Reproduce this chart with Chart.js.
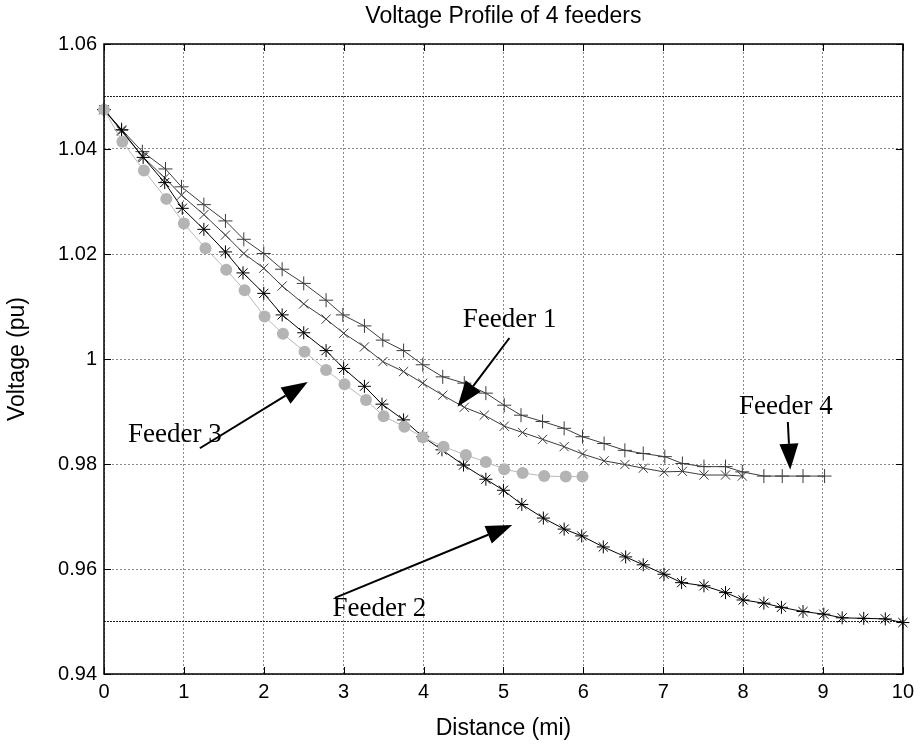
<!DOCTYPE html>
<html>
<head>
<meta charset="utf-8">
<title>Voltage Profile of 4 feeders</title>
<script src="https://cdn.jsdelivr.net/npm/chart.js@4.4.0/dist/chart.umd.min.js"></script>
<style>
    html, body { margin: 0; padding: 0; background: #fff; }
    #voltageGraph { display: block; }
</style>
</head>
<body>
<canvas id="voltageGraph" width="920" height="744"></canvas>
<script>
(function () {
    "use strict";

    // distance along the feeder (mi) and bus voltage (pu)
    const feeder1_dist = [0, 0.22, 0.48, 0.76, 0.97, 1.25, 1.52, 1.75, 2.0, 2.23, 2.5, 2.78, 3.0, 3.26, 3.49, 3.75, 3.99, 4.24, 4.51, 4.76, 5.01, 5.24, 5.49, 5.76, 5.99, 6.26, 6.52, 6.75, 7.01, 7.24, 7.51, 7.78, 7.99];
    const feeder1_volt = [1.0475, 1.0434, 1.0386, 1.0345, 1.0312, 1.0275, 1.0236, 1.0201, 1.0173, 1.0139, 1.0105, 1.0076, 1.0049, 1.0023, 0.9995, 0.9976, 0.9954, 0.9931, 0.9908, 0.9893, 0.9872, 0.986, 0.9847, 0.9833, 0.9819, 0.9806, 0.9799, 0.9792, 0.9785, 0.9786, 0.9779, 0.9779, 0.9777];

    const feeder2_dist = [0, 0.22, 0.49, 0.76, 0.98, 1.25, 1.52, 1.74, 2.0, 2.23, 2.5, 2.78, 3.0, 3.26, 3.48, 3.75, 3.99, 4.23, 4.5, 4.78, 5.0, 5.23, 5.5, 5.76, 5.98, 6.25, 6.53, 6.75, 7.01, 7.23, 7.51, 7.78, 8.0, 8.26, 8.48, 8.75, 9.01, 9.24, 9.51, 9.78, 10.0];
    const feeder2_volt = [1.0475, 1.0436, 1.0384, 1.0336, 1.0287, 1.0247, 1.0204, 1.0164, 1.0125, 1.0084, 1.005, 1.0016, 0.9982, 0.9948, 0.9914, 0.9884, 0.9852, 0.9827, 0.9798, 0.9771, 0.975, 0.9723, 0.9697, 0.9676, 0.9663, 0.9642, 0.9623, 0.9608, 0.959, 0.9574, 0.9568, 0.9555, 0.9541, 0.9535, 0.9527, 0.9519, 0.9514, 0.9507, 0.9506, 0.9505, 0.9498];

    const feeder3_dist = [0, 0.23, 0.5, 0.78, 1.0, 1.27, 1.53, 1.76, 2.01, 2.24, 2.51, 2.78, 3.01, 3.28, 3.5, 3.76, 3.99, 4.25, 4.53, 4.78, 5.01, 5.24, 5.51, 5.78, 5.99];
    const feeder3_volt = [1.0475, 1.0414, 1.0359, 1.0305, 1.0258, 1.0211, 1.017, 1.0131, 1.0081, 1.0048, 1.0014, 0.9979, 0.9952, 0.9922, 0.9891, 0.9871, 0.9851, 0.9833, 0.9817, 0.9804, 0.979, 0.9783, 0.9777, 0.9776, 0.9776];

    const feeder4_dist = [0, 0.22, 0.48, 0.77, 0.97, 1.25, 1.52, 1.75, 2.0, 2.23, 2.5, 2.78, 2.99, 3.26, 3.49, 3.75, 3.99, 4.24, 4.51, 4.78, 5.01, 5.22, 5.49, 5.76, 5.99, 6.26, 6.52, 6.75, 7.02, 7.24, 7.51, 7.78, 7.99, 8.26, 8.49, 8.75, 9.02];
    const feeder4_volt = [1.0475, 1.0437, 1.0395, 1.0362, 1.0328, 1.0294, 1.0263, 1.0228, 1.0201, 1.0171, 1.0144, 1.0112, 1.0084, 1.0063, 1.0036, 1.0016, 0.9989, 0.9966, 0.9954, 0.9935, 0.9912, 0.9893, 0.9881, 0.9868, 0.9852, 0.9839, 0.9826, 0.982, 0.9814, 0.9801, 0.9795, 0.9795, 0.9785, 0.9777, 0.9777, 0.9777, 0.9777];

    // voltage limits drawn as dark lines across the axes
    const limit_volt = [1.05, 0.95];
    const limit_span = [0, 10];

    const x_ticks = [0, 1, 2, 3, 4, 5, 6, 7, 8, 9, 10];
    const y_ticks = [0.94, 0.96, 0.98, 1, 1.02, 1.04, 1.06];
    const feeder_names = ["Feeder 1", "Feeder 2", "Feeder 3", "Feeder 4"];

    const sans = "'Liberation Sans', Arial, Helvetica, sans-serif";
    const serif = "'Liberation Serif', 'Times New Roman', serif";

    // text + arrow callouts, placed in data units (distance, voltage)
    const callouts = [
        { text: feeder_names[0], at: [4.49, 1.0061], from: [5.075, 1.004], to: [4.425, 0.9909] },
        { text: feeder_names[1], at: [2.86, 0.951], from: [2.89, 0.9545], to: [5.11, 0.9684] },
        { text: feeder_names[2], at: [0.3, 0.9842], from: [1.2, 0.983], to: [2.55, 0.9956] },
        { text: feeder_names[3], at: [7.95, 0.9895], from: [8.56, 0.988], to: [8.59, 0.9789] },
    ];

    function toPoints(dist, volt) {
        return dist.map(function (d, i) {
            return { x: d, y: volt[i] };
        });
    }

    function tickList(values) {
        return function (scale) {
            scale.ticks = values.map(function (v) {
                return { value: v };
            });
        };
    }

    /**
     * @description draws a line with a filled triangular head at (x1, y1)
     */
    function drawArrow(ctx, x0, y0, x1, y1) {
        let angle = Math.atan2(y1 - y0, x1 - x0);
        let head_len = 26;
        let head_half = 9.5;
        let bx = x1 - head_len * Math.cos(angle);
        let by = y1 - head_len * Math.sin(angle);
        ctx.beginPath();
        ctx.moveTo(x0, y0);
        ctx.lineTo(bx, by);
        ctx.lineWidth = 2;
        ctx.stroke();
        ctx.beginPath();
        ctx.moveTo(x1, y1);
        ctx.lineTo(bx + head_half * Math.sin(angle), by - head_half * Math.cos(angle));
        ctx.lineTo(bx - head_half * Math.sin(angle), by + head_half * Math.cos(angle));
        ctx.closePath();
        ctx.fill();
    }

    // axes box, inward tick marks and the feeder callouts
    const matlabAxes = {
        id: "matlabAxes",
        afterDraw: function (chart) {
            let ctx = chart.ctx;
            let area = chart.chartArea;
            let xs = chart.scales.x;
            let ys = chart.scales.y;
            ctx.save();
            ctx.strokeStyle = "#000";
            ctx.fillStyle = "#000";
            ctx.lineWidth = 1;
            xs.ticks.forEach(function (t) {
                let px = Math.round(xs.getPixelForValue(t.value)) + 0.5;
                ctx.beginPath();
                ctx.moveTo(px, area.bottom);
                ctx.lineTo(px, area.bottom - 7);
                ctx.moveTo(px, area.top);
                ctx.lineTo(px, area.top + 7);
                ctx.stroke();
            });
            ys.ticks.forEach(function (t) {
                let py = Math.round(ys.getPixelForValue(t.value)) + 0.5;
                ctx.beginPath();
                ctx.moveTo(area.left, py);
                ctx.lineTo(area.left + 7, py);
                ctx.moveTo(area.right, py);
                ctx.lineTo(area.right - 7, py);
                ctx.stroke();
            });
            ctx.lineWidth = 1.5;
            ctx.strokeRect(area.left, area.top, area.right - area.left, area.bottom - area.top);

            ctx.font = "27px " + serif;
            ctx.textAlign = "left";
            ctx.textBaseline = "alphabetic";
            callouts.forEach(function (c) {
                ctx.fillText(c.text, xs.getPixelForValue(c.at[0]), ys.getPixelForValue(c.at[1]));
                drawArrow(
                    ctx,
                    xs.getPixelForValue(c.from[0]),
                    ys.getPixelForValue(c.from[1]),
                    xs.getPixelForValue(c.to[0]),
                    ys.getPixelForValue(c.to[1])
                );
            });
            ctx.restore();
        },
    };

    const limitSets = limit_volt.map(function (v) {
        return {
            label: "limit " + v,
            data: limit_span.map(function (d) {
                return { x: d, y: v };
            }),
            borderColor: "#222",
            borderWidth: 1,
            borderDash: [2, 1],
            pointRadius: 0,
            order: 10,
        };
    });

    const data = {
        datasets: [
            {
                label: feeder_names[0],
                data: toPoints(feeder1_dist, feeder1_volt),
                borderColor: "#3c3c3c",
                borderWidth: 1,
                pointStyle: "crossRot",
                pointRadius: 6.5,
                pointBorderWidth: 1,
                pointBorderColor: "#3c3c3c",
                clip: false,
                order: 3,
            },
            {
                label: feeder_names[1],
                data: toPoints(feeder2_dist, feeder2_volt),
                borderColor: "#000",
                borderWidth: 1,
                pointStyle: "star",
                pointRadius: 6.5,
                pointBorderWidth: 1,
                pointBorderColor: "#000",
                clip: false,
                order: 2,
            },
            {
                label: feeder_names[2],
                data: toPoints(feeder3_dist, feeder3_volt),
                borderColor: "#b8b8b8",
                borderWidth: 1,
                pointStyle: "circle",
                pointRadius: 6,
                pointBorderWidth: 0,
                pointBackgroundColor: "#b4b4b4",
                clip: false,
                order: 1,
            },
            {
                label: feeder_names[3],
                data: toPoints(feeder4_dist, feeder4_volt),
                borderColor: "#3c3c3c",
                borderWidth: 1,
                pointStyle: "cross",
                pointRadius: 7,
                pointBorderWidth: 1,
                pointBorderColor: "#3c3c3c",
                clip: false,
                order: 4,
            },
        ].concat(limitSets),
    };

    const config = {
        type: "line",
        data: data,
        options: {
            responsive: false,
            animation: false,
            devicePixelRatio: 1,
            layout: {
                padding: { top: 0, right: 16, bottom: 0, left: 0 },
            },
            elements: {
                line: { tension: 0 },
            },
            plugins: {
                legend: { display: false },
                tooltip: { enabled: false },
                title: {
                    display: true,
                    text: "Voltage Profile of 4 feeders",
                    color: "#000",
                    fullSize: false,
                    font: { family: sans, size: 23, weight: "normal" },
                    padding: { top: 3, bottom: 13.4 },
                },
            },
            scales: {
                x: {
                    type: "linear",
                    min: 0,
                    max: 10,
                    afterBuildTicks: tickList(x_ticks),
                    afterFit: function (scale) {
                        scale.height = 70;
                    },
                    ticks: {
                        color: "#000",
                        padding: 6,
                        maxRotation: 0,
                        font: { family: sans, size: 20 },
                    },
                    grid: {
                        color: "#8a8a8a",
                        lineWidth: 1,
                        drawTicks: false,
                    },
                    border: { display: false, dash: [2, 2] },
                    title: {
                        display: true,
                        text: "Distance (mi)",
                        color: "#000",
                        font: { family: sans, size: 23 },
                        padding: { top: 0, bottom: 2 },
                    },
                },
                y: {
                    type: "linear",
                    min: 0.94,
                    max: 1.06,
                    afterBuildTicks: tickList(y_ticks),
                    afterFit: function (scale) {
                        scale.width = 104;
                    },
                    ticks: {
                        color: "#000",
                        padding: 7,
                        font: { family: sans, size: 20 },
                        callback: function (value) {
                            return String(parseFloat(value.toFixed(2)));
                        },
                    },
                    grid: {
                        color: "#8a8a8a",
                        lineWidth: 1,
                        drawTicks: false,
                    },
                    border: { display: false, dash: [2, 2] },
                    title: {
                        display: true,
                        text: "Voltage (pu)",
                        color: "#000",
                        font: { family: sans, size: 23 },
                        padding: { top: 4, bottom: 0 },
                    },
                },
            },
        },
        plugins: [matlabAxes],
    };

    new Chart(document.getElementById("voltageGraph"), config);
})();
</script>
</body>
</html>
